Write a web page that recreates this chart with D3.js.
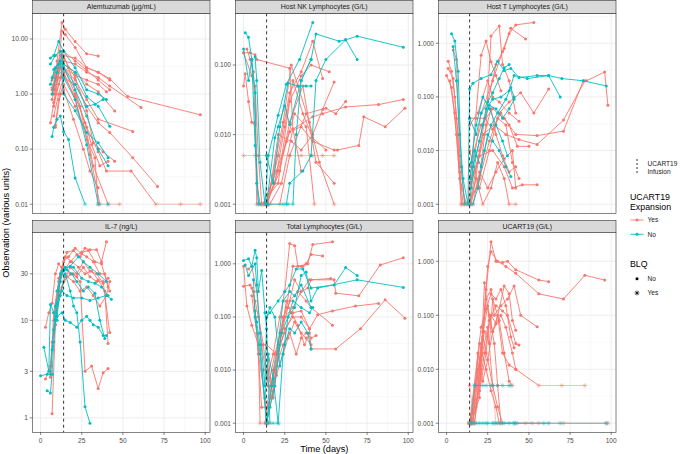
<!DOCTYPE html>
<html><head><meta charset="utf-8">
<script src="https://cdn.jsdelivr.net/npm/d3@7"></script>
<style>body{margin:0;background:#fff}svg{font-family:"Liberation Sans",Arial,sans-serif}</style>
</head><body><svg id="c" width="680" height="454"></svg>
<script>
// ---------- DATA: [expansion, [[day, value, blq], ...]] ----------
const alemtuzumab = [
 ["Yes", [[8,1.2],[10,4],[13,20],[15,15],[21,9],[28,5.4],[35,4.9]]],
 ["Yes", [[7,0.8],[10,2],[13,14],[15,12],[21,7],[28,3],[35,2.5],[42,1.8]]],
 ["Yes", [[8,1.5],[11,3],[14,5],[21,4.5],[28,3],[35,2.5],[42,1.9],[53,0.9],[97,0.42]]],
 ["Yes", [[7,1],[10,2.5],[14,4],[21,3.5],[28,2.5],[35,2],[42,1.4],[61,0.57]]],
 ["Yes", [[8,0.6],[12,2],[14,3.5],[21,2.5],[28,1.5],[35,1.1],[45,0.49]]],
 ["Yes", [[9,1.2],[12,3],[14,3],[21,1.8],[28,0.8],[35,0.35],[56,0.21]]],
 ["Yes", [[8,0.4],[11,1],[14,2],[21,1.5],[28,0.6],[35,0.3],[42,0.2],[56,0.07],[71,0.021]]],
 ["Yes", [[7,1.2],[10,2],[14,3],[21,1],[28,0.25],[35,0.09],[40,0.04],[55,0.04],[70,0.01,1],[85,0.01,1],[97,0.01,1]]],
 ["Yes", [[8,0.7],[11,1.5],[14,2.5],[21,0.8],[28,0.15],[33,0.07],[35,0.01,1]]],
 ["Yes", [[6,0.3],[9,1],[13,6],[17,3],[24,0.6],[30,0.08],[36,0.01,1]]],
 ["Yes", [[7,1.8],[10,3],[14,4.5],[21,2],[28,0.5],[32,0.13],[38,0.09],[45,0.06]]],
 ["Yes", [[8,2],[12,5],[14,6],[21,4],[28,2.7],[35,1.8],[42,1.2]]],
 ["Yes", [[7,1.3],[10,2.5],[14,3],[21,2.2],[28,1.8],[35,1.5],[40,1.1]]],
 ["Yes", [[9,0.25],[12,1],[14,1.5],[21,0.6],[28,0.2],[32,0.05],[41,0.01,1],[48,0.01,1]]],
 ["Yes", [[9,0.27],[11,0.8],[14,1.2],[20,0.35],[26,0.1],[30,0.04],[35,0.02]]],
 ["Yes", [[8,1],[10,1.8],[14,2.2],[21,0.9],[27,0.3],[31,0.12],[36,0.05],[41,0.06]]],
 ["No",  [[6,4.5],[8,5],[11,9],[14,6],[21,3],[28,1.2],[35,1],[40,0.8]]],
 ["No",  [[6,3.5],[9,5],[12,6],[14,3.5],[21,2.5],[28,0.9],[35,0.6],[42,0.26]]],
 ["No",  [[7,2],[9,3],[12,4],[14,1],[21,0.5],[28,0.2],[35,0.13],[41,0.07]]],
 ["No",  [[7,0.17],[8,0.25],[10,0.35],[12,0.4],[14,0.21],[17,0.15],[21,0.03],[27,0.01,1]]],
 ["No",  [[6,1.5],[9,3],[12,4],[14,3],[21,1.2],[28,0.4],[35,0.1],[41,0.05]]],
 ["No",  [[7,1],[10,2.5],[13,5],[14,2],[21,0.8],[28,0.12],[35,0.01,1],[41,0.01,1]]],
 ["No",  [[8,2.8],[11,3.5],[14,3],[21,1.5],[28,0.6],[33,0.65],[38,0.8]]]
];
const hostNK = [
 ["Yes", [[0,0.15],[4,0.15],[7,0.14],[8,0.12],[28,0.09],[30,0.012],[35,0.003]]],
 ["Yes", [[0,0.05],[1,0.075],[3,0.03],[5,0.015],[7,0.014],[8,0.001,1]]],
 ["Yes", [[2,0.17],[4,0.12],[6,0.08],[7,0.015],[9,0.001,1],[11,0.001,1]]],
 ["Yes", [[0,0.15],[5,0.07],[7,0.05],[9,0.005],[11,0.001,1]]],
 ["Yes", [[0,0.005,1],[7,0.005,1],[14,0.005,1],[21,0.005,1],[28,0.005,1],[35,0.005,1],[42,0.005,1],[48,0.005,1],[55,0.005,1]]],
 ["Yes", [[14,0.001,1],[21,0.003],[28,0.011],[35,0.013],[42,0.008],[55,0.006],[57,0.006],[70,0.007],[73,0.018],[86,0.013],[98,0.024]]],
 ["Yes", [[16,0.001,1],[23,0.002],[30,0.012],[42,0.018],[48,0.02],[62,0.025],[82,0.027],[97,0.032]]],
 ["Yes", [[14,0.001,1],[21,0.005],[28,0.04],[35,0.08],[42,0.22],[48,0.064]]],
 ["Yes", [[11,0.001,1],[21,0.002],[28,0.03],[35,0.07],[41,0.1],[52,0.08]]],
 ["Yes", [[14,0.001,1],[22,0.003],[28,0.015],[36,0.05],[44,0.004],[55,0.002]]],
 ["Yes", [[15,0.001,1],[21,0.01],[29,0.008],[35,0.006],[42,0.01],[48,0.023],[55,0.057]]],
 ["Yes", [[14,0.001,1],[22,0.001,1],[28,0.005],[38,0.02],[50,0.024],[56,0.02],[62,0.03]]],
 ["Yes", [[14,0.001,1],[24,0.015],[29,0.1],[33,0.05],[40,0.015],[46,0.004],[55,0.001,1]]],
 ["Yes", [[13,0.001,1],[19,0.002],[25,0.013],[30,0.06],[36,0.02],[42,0.009],[50,0.006]]],
 ["Yes", [[12,0.001,1],[20,0.003],[26,0.008],[31,0.02],[38,0.013],[43,0.001,1]]],
 ["No",  [[1,0.29],[3,0.25],[5,0.12],[7,0.04],[8,0.002],[10,0.001,1]]],
 ["No",  [[0,0.17],[3,0.06],[5,0.12],[7,0.007],[9,0.001,1]]],
 ["No",  [[7,0.13],[8,0.06],[10,0.004],[13,0.001,1],[15,0.005],[21,0.019],[26,0.053],[34,0.12],[42,0.41]]],
 ["No",  [[14,0.001,1],[19,0.009],[21,0.013],[25,0.026],[28,0.014],[35,0.06],[41,0.12],[44,0.28],[58,0.22],[62,0.23],[69,0.26],[97,0.18]]],
 ["No",  [[14,0.001,1],[27,0.001,1],[30,0.001,1],[32,0.01],[35,0.06],[41,0.12]]],
 ["No",  [[15,0.001,1],[24,0.001,1],[26,0.001,1],[28,0.002],[36,0.003],[41,0.005],[44,0.06],[50,0.12],[62,0.23],[69,0.12]]],
 ["No",  [[14,0.005],[18,0.002],[22,0.013],[27,0.055],[33,0.05],[38,0.05],[41,0.05]]]
];
const hostT = [
 ["Yes", [[1,0.46],[3,0.3],[5,0.1],[7,0.02],[9,0.001,1]]],
 ["Yes", [[1,0.34],[4,0.22],[6,0.04],[8,0.004],[10,0.001,1],[14,0.001,1]]],
 ["Yes", [[0,0.25],[3,0.15],[6,0.02],[9,0.001,1]]],
 ["Yes", [[2,0.2],[5,0.05],[8,0.003],[12,0.001,1]]],
 ["Yes", [[4,0.75],[6,0.5],[8,0.008],[11,0.001,1],[19,0.002],[24,0.03],[27,1.37],[32,2.1],[34,0.4],[38,0.2],[42,0.05]]],
 ["Yes", [[14,0.001,1],[20,0.01],[25,0.08],[30,0.4],[35,0.8],[38,1.5],[42,2.2],[53,2.45]]],
 ["Yes", [[14,0.002],[21,0.05],[28,0.2],[34,0.7],[39,1.9],[48,1.2]]],
 ["Yes", [[14,0.005],[21,0.03],[28,0.06],[35,0.04],[42,0.02],[55,0.019],[71,0.023],[83,0.2],[85,0.2],[96,0.29],[98,0.07]]],
 ["Yes", [[15,0.001,1],[22,0.02],[29,0.03],[36,0.02],[44,0.016],[55,0.013],[71,0.037],[84,0.2]]],
 ["Yes", [[14,0.001,1],[20,0.003],[26,0.015],[32,0.05],[38,0.08],[45,0.12],[53,0.05],[62,0.14]]],
 ["Yes", [[15,0.003],[20,0.008],[28,0.01],[35,0.005],[40,0.002],[46,0.0023],[55,0.0023]]],
 ["Yes", [[16,0.001,1],[20,0.004],[25,0.002],[30,0.004],[35,0.007],[40,0.01],[42,0.002]]],
 ["Yes", [[14,0.001,1],[18,0.003],[22,0.001,1],[27,0.002],[31,0.006],[35,0.003],[38,0.001,1],[42,0.001,1]]],
 ["Yes", [[14,0.03],[19,0.05],[25,0.2],[28,0.1],[32,0.08],[38,0.05],[44,0.035]]],
 ["Yes", [[14,0.01],[20,0.002],[26,0.01],[31,0.04],[36,0.03],[40,0.006],[44,0.003]]],
 ["Yes", [[13,0.001,1],[21,0.6],[24,1.1],[27,0.45],[30,0.25],[33,0.13]]],
 ["Yes", [[14,0.04],[18,0.04],[23,0.04],[28,0.025],[33,0.05],[38,0.03],[43,0.012],[50,0.012]]],
 ["Yes", [[14,0.002],[19,0.006],[23,0.02],[27,0.06],[30,0.02],[34,0.008],[38,0.004],[42,0.005]]],
 ["No",  [[3,1.5],[5,1.1],[7,0.3],[9,0.005],[11,0.001,1]]],
 ["No",  [[4,0.87],[6,0.2],[8,0.02],[10,0.003],[13,0.001,1],[14,0.14],[16,0.18],[21,0.22],[27,0.26],[31,0.46],[35,0.31],[39,0.34],[44,0.23],[55,0.25],[62,0.25],[69,0.1]]],
 ["No",  [[14,0.04],[18,0.02],[21,0.05],[25,0.08],[28,0.12],[32,0.22],[35,0.35],[38,0.4]]],
 ["No",  [[14,0.001,1],[16,0.005],[20,0.015],[24,0.06],[28,0.09],[33,0.1],[38,0.13],[41,0.25],[49,0.22],[62,0.25],[70,0.22],[83,0.2],[97,0.16]]],
 ["No",  [[15,0.002],[18,0.008],[22,0.03],[26,0.07],[30,0.06],[34,0.04],[38,0.06],[41,0.09]]],
 ["No",  [[14,0.003],[17,0.01],[21,0.005],[25,0.02],[28,0.015],[32,0.01],[36,0.005],[39,0.0033]]],
 ["No",  [[16,0.001,1],[19,0.002],[23,0.01],[27,0.03],[31,0.05],[36,0.09],[39,0.15],[41,0.1]]],
 ["No",  [[15,0.006],[18,0.03],[22,0.1],[26,0.06],[30,0.03],[34,0.015],[37,0.008]]]
];
const il7 = [
 ["Yes", [[3,8.5],[5,12],[7,15],[9,30],[11,38],[14,32],[18,40],[22,47],[25,50],[29,52],[33,40],[37,38],[41,22]]],
 ["Yes", [[3,2.5],[6,3.4],[7,6],[9,9],[11,20],[13,35],[16,50],[20,52],[24,45],[27,55],[30,53],[34,53],[37,40],[40,64]]],
 ["Yes", [[7,1.1],[9,9],[11,27],[14,40],[17,45],[21,55],[25,48],[28,45],[32,40],[36,30],[39,30],[42,20]]],
 ["Yes", [[6,2.6],[8,12],[10,20],[13,30],[16,28],[20,30],[24,25],[27,3],[31,3.4],[35,2],[38,2.9],[41,3.2]]],
 ["Yes", [[8,10],[11,25],[14,35],[18,30],[22,28],[26,35],[30,28],[34,25],[38,25],[42,7.5]]],
 ["Yes", [[9,12],[12,28],[15,45],[19,40],[23,35],[27,30],[31,32],[35,26],[39,20],[41,5.8]]],
 ["Yes", [[10,15],[13,22],[16,28],[20,25],[24,20],[28,22],[32,18],[36,14],[40,18],[42,25]]],
 ["Yes", [[6,3],[8,8],[11,18],[14,25],[18,35],[22,30],[26,40],[30,32],[34,30],[38,24],[41,27]]],
 ["No",  [[0,2.7],[4,2.8],[6,2.8],[7,5],[9,14],[12,25],[14,33],[18,36],[23,45],[26,40],[30,35],[35,30],[40,25]]],
 ["No",  [[2,5.3],[5,3],[6,14.5],[8,12],[10,10],[12,30],[15,35],[20,35],[25,27],[29,25],[33,24],[37,22],[41,18]]],
 ["No",  [[4,1.9],[6,1.8],[7,2.8],[8,6],[10,15],[13,20],[16,18],[20,17],[25,17],[30,16],[35,17],[40,18],[43,16.5]]],
 ["No",  [[8,8],[10,11],[13,12],[15,10],[18,9.5],[22,8.5],[25,10],[28,11],[30,10],[32,9],[35,8.5],[38,7],[40,7]]],
 ["No",  [[9,10],[12,18],[15,30],[18,20],[20,14],[22,12],[24,6],[27,1.3],[30,0.88]]],
 ["No",  [[10,20],[13,32],[16,33],[19,30],[22,25],[26,20],[29,22],[33,19],[36,10],[39,6.5]]]
];
const totalLymph = [
 ["Yes", [[0,0.9],[2,0.16],[5,0.07],[9,0.03],[10,0.001,1],[14,0.001,1]]],
 ["Yes", [[0,0.38],[4,0.4],[6,0.3],[9,0.02],[13,0.003],[15,0.001,1]]],
 ["Yes", [[3,0.8],[5,0.9],[8,0.3],[11,0.03],[14,0.007],[18,0.02],[22,0.1],[25,0.3],[28,2.4],[31,2.2],[33,0.9],[36,0.9],[39,1],[42,2.3],[54,2.6]]],
 ["Yes", [[14,0.001,1],[18,0.01],[22,0.05],[26,0.15],[30,0.9],[35,0.9],[38,1],[41,1.5],[48,1.4]]],
 ["Yes", [[5,0.35],[7,0.2],[9,0.1],[12,0.03],[15,0.005],[19,0.02],[25,0.1],[30,0.15],[35,0.3],[40,0.5],[55,0.5],[56,0.28],[70,0.25],[83,0.95],[97,1.3]]],
 ["Yes", [[14,0.03],[20,0.02],[25,0.05],[30,0.12],[35,0.13],[40,0.06],[41,0.025],[56,0.025],[71,0.06],[86,0.21],[98,0.095]]],
 ["Yes", [[14,0.001,1],[17,0.003],[21,0.02],[25,0.06],[30,0.1],[35,0.1],[40,0.06],[45,0.11],[54,0.13],[68,0.16],[82,0.18]]],
 ["Yes", [[15,0.002],[19,0.01],[23,0.05],[28,0.2],[33,0.3],[38,0.2],[41,0.15],[54,0.07]]],
 ["Yes", [[13,0.001,1],[16,0.005],[20,0.012],[24,0.03],[28,0.05],[32,0.02],[35,0.04],[38,0.05],[41,0.04],[44,0.045]]],
 ["Yes", [[12,0.01],[15,0.01],[18,0.003],[21,0.02],[24,0.1],[27,0.15],[31,0.5],[35,0.3],[39,0.35],[41,0.5],[53,0.53]]],
 ["Yes", [[14,0.03],[17,0.005],[20,0.008],[24,0.02],[27,0.04],[31,0.08],[35,0.05],[38,0.04],[41,0.03]]],
 ["Yes", [[5,0.25],[8,0.05],[11,0.002],[14,0.002],[18,0.004],[22,0.03],[26,0.2],[29,0.12],[33,0.07],[37,0.03],[40,0.05]]],
 ["No",  [[0,1.15],[3,1.25],[5,0.9],[7,1.8],[8,1.3],[9,0.3],[11,0.75],[13,0.12],[14,0.06],[16,0.001,1],[18,0.001,1],[21,0.001,1]]],
 ["No",  [[1,0.95],[3,0.6],[7,1],[8,0.4],[10,0.05],[13,0.005],[14,0.1],[16,0.12],[21,0.2],[25,0.3],[28,0.4],[32,0.8],[36,0.8],[41,0.35],[55,0.4],[62,0.85],[69,0.6]]],
 ["No",  [[7,0.13],[8,0.08],[10,0.03],[14,0.001,1],[17,0.005],[21,0.03],[24,0.2],[28,0.3],[31,0.25],[35,0.4],[41,0.15]]],
 ["No",  [[6,0.5],[7,0.1],[10,0.02],[14,0.001,1],[16,0.002],[19,0.005],[23,0.05],[27,0.1],[31,0.15],[35,0.6],[38,0.7],[41,0.2],[45,0.35],[69,0.5],[97,0.36]]],
 ["No",  [[14,0.1],[16,0.15],[19,0.1],[22,0.012],[25,0.03],[28,0.06],[31,0.05],[35,0.08],[39,0.05],[41,0.025]]],
 ["No",  [[13,0.003],[15,0.02],[18,0.007],[21,0.001,1],[24,0.02],[27,0.1],[30,0.2],[35,0.15],[40,0.12],[42,0.15]]]
];
const ucart19 = [
 ["Yes", [[14,0.001,1],[17,0.001,1],[21,0.01],[24,0.3],[27,2.3],[30,1],[34,0.95],[37,1],[42,0.7],[56,0.45],[62,0.42]]],
 ["Yes", [[14,0.001,1],[19,0.005,1],[22,0.05],[25,0.8],[27,1.5],[31,1],[36,0.8],[42,0.6],[56,0.25],[71,0.2],[84,0.55],[96,0.45]]],
 ["Yes", [[15,0.001,1],[20,0.003],[23,0.4],[26,0.08],[30,0.15],[34,0.12],[37,0.1],[42,0.03],[44,0.028]]],
 ["Yes", [[14,0.001,1],[18,0.005,1],[21,0.02],[24,0.2],[27,0.3],[29,0.1],[33,0.15],[37,0.2],[41,0.35],[45,0.1],[55,0.061]]],
 ["Yes", [[14,0.001,1],[20,0.005,1],[23,0.02],[27,0.1],[30,0.07],[35,0.35],[38,0.25],[40,0.08],[42,0.053]]],
 ["Yes", [[16,0.001,1],[21,0.03],[25,0.15],[28,0.05],[31,0.1],[34,0.02],[38,0.012],[42,0.01],[56,0.005,1],[70,0.005,1],[84,0.005,1]]],
 ["Yes", [[14,0.001,1],[19,0.01],[23,0.05],[26,0.03],[28,0.2],[32,0.08],[35,0.02],[38,0.006],[40,0.005,1]]],
 ["Yes", [[15,0.001,1],[18,0.002],[22,0.04],[25,0.015],[28,0.005,1],[31,0.002],[34,0.001,1]]],
 ["Yes", [[14,0.001,1],[20,0.004],[24,0.02],[26,0.1],[29,0.03],[31,0.005],[33,0.001,1],[56,0.001,1],[71,0.001,1],[97,0.001,1]]],
 ["Yes", [[14,0.005,1],[17,0.001,1],[21,0.015],[25,0.06],[28,0.005,1],[30,0.001,1],[48,0.001,1],[52,0.001,1]]],
 ["Yes", [[16,0.001,1],[19,0.02],[22,0.006],[25,0.015],[28,0.05],[33,0.1],[36,0.06],[40,0.02],[42,0.01]]],
 ["Yes", [[15,0.001,1],[20,0.03],[24,0.01],[27,0.004],[30,0.002],[32,0.001,1],[43,0.001,1],[98,0.001,1]]],
 ["Yes", [[14,0.001,1],[21,0.06],[24,0.13],[27,0.25],[30,0.2],[33,0.3],[36,0.15],[39,0.04],[41,0.025]]],
 ["No",  [[15,0.001,1],[17,0.005,1],[24,0.005,1],[28,0.005,1],[31,0.005,1],[39,0.005,1]]],
 ["No",  [[14,0.001,1],[20,0.001,1],[25,0.001,1],[31,0.001,1],[38,0.001,1],[41,0.001,1],[59,0.001,1],[69,0.001,1],[97,0.001,1]]],
 ["No",  [[16,0.001,1],[22,0.001,1],[28,0.001,1],[35,0.001,1],[42,0.001,1],[62,0.001,1]]],
 ["No",  [[18,0.001,1],[24,0.001,1],[29,0.001,1],[33,0.001,1],[41,0.001,1]]],
 ["No",  [[17,0.005,1],[22,0.005,1],[27,0.005,1],[34,0.005,1],[38,0.005,1]]]
];
const panelTitles = ["Alemtuzumab (µg/mL)","Host NK Lymphocytes (G/L)","Host T Lymphocytes (G/L)","IL-7 (ng/L)","Total Lymphocytes (G/L)","UCART19 (G/L)"];
const panelTicks = [[0.01,0.1,1,10],[0.001,0.01,0.1],[0.001,0.01,0.1,1],[1,3,10,30],[0.001,0.01,0.1,1],[0.001,0.01,0.1,1]];
const panelDecimals = [2,3,3,0,3,3];
const xTicks = [0,25,50,75,100];
const infusionDay = 14;
const expansionLevels = ["Yes","No"];
const blqLevels = ["No","Yes"];

// ---------- LAYOUT ----------
const svg = d3.select("#c");
const colors = {Yes:"#F8766D", No:"#00BFC4"};
const colLeft = [32.5, 235.5, 438.5], pw = 177.5;
const rows = [{st:0, top:13.3, bot:213.3},{st:220, top:232.7, bot:432.3}];
const allData = [alemtuzumab, hostNK, hostT, il7, totalLymph, ucart19];

const allDays = allData.flat().flatMap(s => s[1].map(p => p[0]));
const xe = d3.extent(allDays), xpad = (xe[1]-xe[0])*0.05;

const star = r => { const a = r*0.71; return `M0,${-r}V${r}M${-r},0H${r}M${-a},${-a}L${a},${a}M${-a},${a}L${a},${-a}`; };

allData.forEach((data, i) => {
  const col = i % 3, row = rows[Math.floor(i/3)];
  const L = colLeft[col], R = L + pw;
  const x = d3.scaleLinear().domain([xe[0]-xpad, xe[1]+xpad]).range([L, R]);
  const vals = data.flatMap(s => s[1].map(p => p[1]));
  const le = d3.extent(vals).map(Math.log10), lp = (le[1]-le[0])*0.05;
  const y = d3.scaleLog().domain([10**(le[0]-lp), 10**(le[1]+lp)]).range([row.bot, row.top]);
  const g = svg.append("g");
  // background grid
  const ticks = panelTicks[i];
  const lt = ticks.map(Math.log10);
  const minorY = [];
  for (let k = -1; k < lt.length; k++) {
    const a = k < 0 ? lt[0] - (lt[1]-lt[0]) : lt[k];
    const b = k < 0 ? lt[0] : (k+1 < lt.length ? lt[k+1] : lt[k] + (lt[k]-lt[k-1]));
    minorY.push(10**((a+b)/2));
  }
  const dom = y.domain();
  minorY.filter(v => v > dom[0] && v < dom[1]).forEach(v =>
    g.append("line").attr("x1",L).attr("x2",R).attr("y1",y(v)).attr("y2",y(v)).attr("stroke","#F2F2F2").attr("stroke-width",0.5));
  [12.5,37.5,62.5,87.5].forEach(v =>
    g.append("line").attr("x1",x(v)).attr("x2",x(v)).attr("y1",row.top).attr("y2",row.bot).attr("stroke","#F2F2F2").attr("stroke-width",0.5));
  ticks.forEach(v =>
    g.append("line").attr("x1",L).attr("x2",R).attr("y1",y(v)).attr("y2",y(v)).attr("stroke","#EBEBEB").attr("stroke-width",0.9));
  xTicks.forEach(v =>
    g.append("line").attr("x1",x(v)).attr("x2",x(v)).attr("y1",row.top).attr("y2",row.bot).attr("stroke","#EBEBEB").attr("stroke-width",0.9));

  // data
  const order = [...data.filter(s=>s[0]==="Yes"), ...data.filter(s=>s[0]==="No")];
  order.forEach(([grp, pts]) => {
    const c = colors[grp];
    for (let k = 0; k < pts.length-1; k++) {
      const p = pts[k], q = pts[k+1];
      g.append("line").attr("x1",x(p[0])).attr("y1",y(p[1])).attr("x2",x(q[0])).attr("y2",y(q[1]))
        .attr("stroke",c).attr("stroke-width",0.9).attr("opacity",(p[2]&&q[2])?0.5:1);
    }
    pts.forEach(p => {
      if (p[2]) g.append("path").attr("d",star(2.4)).attr("transform",`translate(${x(p[0])},${y(p[1])})`)
        .attr("stroke",c).attr("stroke-width",0.7).attr("fill","none").attr("opacity",0.55);
      else g.append("circle").attr("cx",x(p[0])).attr("cy",y(p[1])).attr("r",1.5).attr("fill",c);
    });
  });
  // infusion line
  g.append("line").attr("x1",x(infusionDay)).attr("x2",x(infusionDay)).attr("y1",row.top).attr("y2",row.bot)
    .attr("stroke","#000").attr("stroke-width",0.8).attr("stroke-dasharray","3,3");
  // border
  g.append("rect").attr("x",L).attr("y",row.top).attr("width",pw).attr("height",row.bot-row.top)
    .attr("fill","none").attr("stroke","#333").attr("stroke-width",0.6);
  // strip
  g.append("rect").attr("x",L).attr("y",row.st+0.3).attr("width",pw).attr("height",row.top-row.st-0.3)
    .attr("fill","#D9D9D9").attr("stroke","#333").attr("stroke-width",0.6);
  g.append("text").attr("x",(L+R)/2).attr("y",(row.st+row.top)/2+0.3).attr("dy","0.35em").attr("text-anchor","middle")
    .attr("font-size",7).attr("fill","#1A1A1A").text(panelTitles[i]);
  // y axis
  ticks.forEach(v => {
    g.append("line").attr("x1",L-2.7).attr("x2",L).attr("y1",y(v)).attr("y2",y(v)).attr("stroke","#333").attr("stroke-width",0.6);
    g.append("text").attr("x",L-4.5).attr("y",y(v)).attr("dy","0.35em").attr("text-anchor","end")
      .attr("font-size",6.6).attr("fill","#4D4D4D").text(v.toFixed(panelDecimals[i]));
  });
  // x axis (bottom row only)
  if (i >= 3) xTicks.forEach(v => {
    g.append("line").attr("x1",x(v)).attr("x2",x(v)).attr("y1",row.bot).attr("y2",row.bot+2.7).attr("stroke","#333").attr("stroke-width",0.6);
    g.append("text").attr("x",x(v)).attr("y",row.bot+8).attr("dy","0.35em").attr("text-anchor","middle")
      .attr("font-size",6.6).attr("fill","#4D4D4D").text(v);
  });
});

// axis titles
svg.append("text").attr("x",(colLeft[0]+colLeft[2]+pw)/2).attr("y",452).attr("text-anchor","middle")
  .attr("font-size",9.2).attr("fill","#000").text("Time (days)");
svg.append("text").attr("transform",`translate(8.5,${(rows[0].top+rows[1].bot)/2}) rotate(-90)`).attr("text-anchor","middle")
  .attr("font-size",9.2).attr("fill","#000").text("Observation (various units)");

// legend
const lg = svg.append("g");
lg.append("line").attr("x1",637).attr("x2",637).attr("y1",159).attr("y2",173).attr("stroke","#000").attr("stroke-width",0.8).attr("stroke-dasharray","2,2");
lg.append("text").attr("x",647.5).attr("y",166).attr("font-size",6.6).attr("fill","#1A1A1A").text("UCART19");
lg.append("text").attr("x",647.5).attr("y",174).attr("font-size",6.6).attr("fill","#1A1A1A").text("Infusion");
lg.append("text").attr("x",630).attr("y",199.5).attr("font-size",8.8).attr("fill","#000").text("UCART19");
lg.append("text").attr("x",630).attr("y",209.5).attr("font-size",8.8).attr("fill","#000").text("Expansion");
expansionLevels.forEach((lv, k) => {
  const yy = 220 + k*14.3;
  lg.append("line").attr("x1",630.5).attr("x2",643.5).attr("y1",yy).attr("y2",yy).attr("stroke",colors[lv]).attr("stroke-width",0.9);
  lg.append("circle").attr("cx",637).attr("cy",yy).attr("r",1.5).attr("fill",colors[lv]);
  lg.append("text").attr("x",647.5).attr("y",yy).attr("dy","0.35em").attr("font-size",6.6).attr("fill","#1A1A1A").text(lv);
});
lg.append("text").attr("x",630).attr("y",267).attr("font-size",8.8).attr("fill","#000").text("BLQ");
blqLevels.forEach((lv, k) => {
  const yy = 278.7 + k*14.3;
  if (lv === "No") lg.append("circle").attr("cx",637).attr("cy",yy).attr("r",1.5).attr("fill","#000");
  else lg.append("path").attr("d",star(2.4)).attr("transform",`translate(637,${yy})`).attr("stroke","#000").attr("stroke-width",0.7).attr("fill","none");
  lg.append("text").attr("x",647.5).attr("y",yy).attr("dy","0.35em").attr("font-size",6.6).attr("fill","#1A1A1A").text(lv);
});
</script></body></html>
